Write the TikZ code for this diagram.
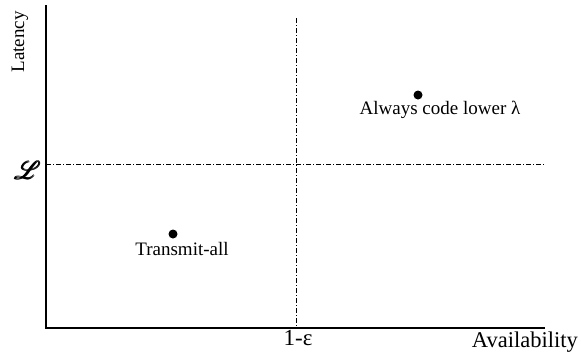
\documentclass[tikz,border=0pt]{standalone}
\usepackage{amsmath}
\usepackage{fontspec}
\setmainfont{Liberation Serif}
\usepackage{mathrsfs}
\begin{document}
\begin{tikzpicture}[x=1pt,y=-1pt,
  lbl/.style={font=\fontsize{19}{21}\selectfont, inner sep=0pt},
  axis/.style={line width=1.2pt},
  guide/.style={line width=0.6pt, dash pattern=on 5pt off 2pt on 1pt off 2pt},
  pt/.style={circle, fill=black, inner sep=0pt, minimum size=9pt}]
\useasboundingbox (0,0) rectangle (581,360);
\coordinate (top) at (46,5);
\coordinate (O) at (46,328);
\coordinate (xend) at (545,328);
\coordinate (vtop) at (296,18);
\coordinate (vbot) at (296,328);
\coordinate (hl) at (46,164);
\coordinate (hr) at (545,164);
\draw[axis] (top) -- (O) -- (xend);
\draw[guide] (vtop) -- (vbot);
\draw[guide] (hl) -- (hr);
\node[pt] (p1) at (418,95) {};
\node[lbl, anchor=north] (t1) at (440,101) {Always code lower λ};
\node[pt] (p2) at (173,234) {};
\node[lbl, anchor=north] (t2) at (182,242) {Transmit-all};
\node[lbl, rotate=90] (lat) at (20,42) {Latency};
\node[lbl, font=\fontsize{30}{32}\selectfont] (L) at (28,170) {$\pmb{\mathscr{L}}$};
\node[lbl, font=\fontsize{23}{25}\selectfont, anchor=north] (eps) at (298,330) {1-ε};
\node[lbl, font=\fontsize{22.5}{25}\selectfont, anchor=north east] (av) at (578,332) {Availability};
\end{tikzpicture}
\end{document}
